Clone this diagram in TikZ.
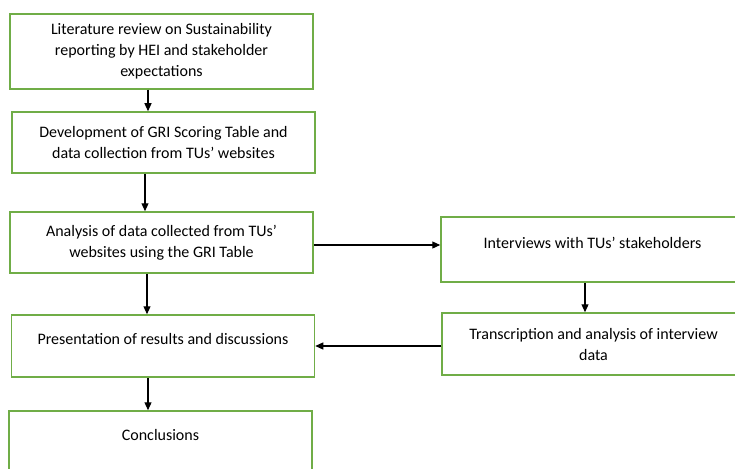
\documentclass[tikz,border=0pt]{standalone}
\usepackage{fontspec}
\setmainfont{Carlito}
\usepackage{xcolor}
\usetikzlibrary{arrows.meta}
\definecolor{boxgreen}{HTML}{70AD47}
\tikzset{
  box/.style={draw=boxgreen, line width=1.5pt, rectangle, minimum width=303pt, inner sep=2pt, align=center, font=\fontsize{16}{21}\selectfont},
  oneline/.style={text height=10pt, text depth=12.5pt},
  >={Triangle[length=8pt,width=7pt]}
}

\begin{document}
\begin{tikzpicture}[x=1pt,y=-1pt]
\useasboundingbox (0,0) rectangle (735,468);
\clip (0,0) rectangle (735,468);
\node[box, minimum height=75pt] (A) at (161.5,51.5) {Literature review on Sustainability\\reporting by HEI and stakeholder\\expectations};
\node[box, minimum height=61pt] (B) at (163.5,142.5) {Development of GRI Scoring Table and\\data collection from TUs’ websites};
\node[box, minimum height=61pt] (C) at (161.5,242.5) {Analysis of data collected from TUs’\\websites using the GRI Table};
\node[box, oneline, minimum height=65pt] (D) at (592.5,249.5) {Interviews with TUs’ stakeholders};
\node[box, minimum height=62pt] (E) at (593.5,344) {Transcription and analysis of interview\\data};
\node[box, oneline, minimum height=62pt] (F) at (163,346) {Presentation of results and discussions};
\node[box, oneline, minimum height=62pt] (G) at (160.5,442) {Conclusions};
\draw [->, line width=1.2pt] ([xshift=-13.5pt]A.south) -- ([xshift=-13.5pt]A.south |- B.north);
\draw [->, line width=1.2pt] ([xshift=-18.5pt]B.south) -- ([xshift=-18.5pt]B.south |- C.north);
\draw [->, line width=1.2pt] ([yshift=-2.5pt]C.east) -- ([yshift=-2.5pt]C.east -| D.west);
\draw [->, line width=1.2pt] ([xshift=-14.5pt]C.south) -- ([xshift=-14.5pt]C.south |- F.north);
\draw [->, line width=1.2pt] ([xshift=-7.5pt]D.south) -- ([xshift=-7.5pt]D.south |- E.north);
\draw [->, line width=1.2pt] ([yshift=-2pt]E.west) -- ([yshift=-2pt]E.west -| F.east);
\draw [->, line width=1.2pt] ([xshift=-15pt]F.south) -- ([xshift=-15pt]F.south |- G.north);
\end{tikzpicture}
\end{document}
